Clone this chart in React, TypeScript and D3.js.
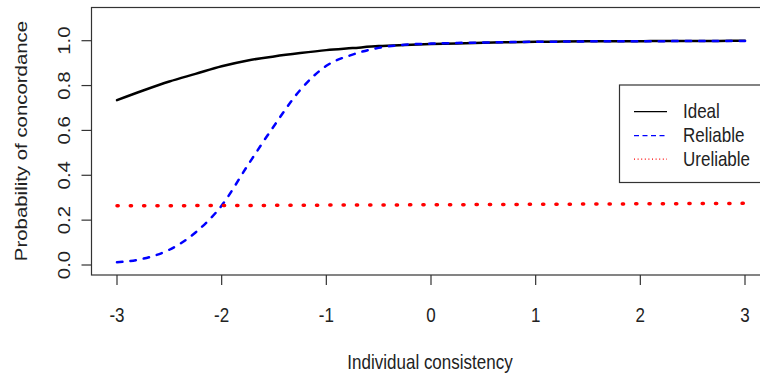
import React, { useEffect } from 'react';
import * as d3 from 'd3';

// values, x = -3 .. 3 in steps of 0.25
const xValues = [
  -3, -2.75, -2.5, -2.25, -2, -1.75, -1.5, -1.25, -1, -0.75, -0.5, -0.25,
  0, 0.25, 0.5, 0.75, 1, 1.25, 1.5, 1.75, 2, 2.25, 2.5, 2.75, 3
];
const ideal = [
  0.735, 0.778, 0.818, 0.852, 0.886, 0.912, 0.930, 0.945, 0.958, 0.967, 0.976, 0.981,
  0.985, 0.988, 0.991, 0.993, 0.995, 0.996, 0.997, 0.998, 0.998, 0.999, 0.999, 0.999, 1.0
];
const reliable = [
  0.012, 0.028, 0.068, 0.145, 0.265, 0.445, 0.62, 0.78, 0.888, 0.938, 0.968, 0.982,
  0.987, 0.99, 0.992, 0.994, 0.995, 0.996, 0.997, 0.997, 0.998, 0.998, 0.999, 0.999, 0.999
];
const unreliable = [
  0.264, 0.264, 0.264, 0.265, 0.265, 0.265, 0.266, 0.266, 0.267, 0.267, 0.268, 0.268,
  0.269, 0.269, 0.27, 0.27, 0.271, 0.271, 0.272, 0.272, 0.273, 0.273, 0.274, 0.274, 0.275
];
const xTicks = [-3, -2, -1, 0, 1, 2, 3];
const yTicks = [0, 0.2, 0.4, 0.6, 0.8, 1.0];
const legendLabels = ['Ideal', 'Reliable', 'Ureliable'];

const W = 760;
const H = 382;
const FONT = '"Liberation Sans", Arial, sans-serif';
const FS = 17;
const STRETCH = 1.2;
const BOX = '#333';

const series = [
  { values: ideal, color: '#000000', width: 2.5, dash: null, legendDash: null },
  { values: reliable, color: '#0000ff', width: 2.5, dash: '5.5,8', legendDash: '5,3.5' },
  { values: unreliable, color: '#ff0000', width: 3.5, dash: '1.2,12.1', legendDash: '1,2.6' }
];

const App: React.FC = () => {
  useEffect(() => {
    document.body.style.margin = '0';
  }, []);

  const x = d3.scaleLinear().domain([-3, 3]).range([117, 745]);
  const y = d3.scaleLinear().domain([0, 1]).range([265, 40.7]);
  const box = { left: 91.5, top: 7.5, right: 771, bottom: 275 };

  const line = d3
    .line<number>()
    .x((_, i) => x(xValues[i]))
    .y(d => y(d))
    .curve(d3.curveMonotoneX);

  const legend = { left: 619.5, top: 85, bottom: 182.5, rows: [111.7, 135.7, 159.2] };

  return (
    <svg width={W} height={H} style={{ display: 'block', background: '#fff' }} fontFamily={FONT}>
      {series.map((s, i) => (
        <path
          key={i}
          d={line(s.values) || ''}
          fill="none"
          stroke={s.color}
          strokeWidth={s.width}
          strokeDasharray={s.dash || undefined}
          strokeLinecap="round"
          strokeLinejoin="round"
        />
      ))}

      {/* plot box */}
      <rect
        x={box.left}
        y={box.top}
        width={box.right - box.left}
        height={box.bottom - box.top}
        fill="none"
        stroke={BOX}
        strokeWidth={1.2}
      />

      {/* x axis */}
      {xTicks.map(t => (
        <g key={t}>
          <line x1={x(t)} x2={x(t)} y1={box.bottom} y2={box.bottom + 10} stroke={BOX} strokeWidth={1.2} />
          <text
            transform={`translate(${x(t)},321.5) scale(1,${STRETCH})`}
            textAnchor="middle"
            fontSize={FS}
            fill="#222"
          >
            {t}
          </text>
        </g>
      ))}
      <text
        transform={`translate(430,369) scale(1,${STRETCH})`}
        textAnchor="middle"
        fontSize={FS}
        fill="#222"
      >
        Individual consistency
      </text>

      {/* y axis */}
      {yTicks.map(t => (
        <g key={t}>
          <line x1={box.left} x2={box.left - 10} y1={y(t)} y2={y(t)} stroke={BOX} strokeWidth={1.2} />
          <text
            transform={`translate(70,${y(t)}) scale(1,${STRETCH}) rotate(-90)`}
            textAnchor="middle"
            fontSize={FS}
            fill="#222"
          >
            {d3.format('.1f')(t)}
          </text>
        </g>
      ))}
      <text
        transform={`translate(27,141) scale(1,${STRETCH}) rotate(-90)`}
        textAnchor="middle"
        fontSize={FS}
        fill="#222"
      >
        Probability of concordance
      </text>

      {/* legend */}
      <rect
        x={legend.left}
        y={legend.top}
        width={box.right - 10 - legend.left}
        height={legend.bottom - legend.top}
        fill="#fff"
        stroke={BOX}
        strokeWidth={1.2}
      />
      {series.map((s, i) => (
        <g key={i}>
          <line
            x1={634}
            x2={667}
            y1={legend.rows[i]}
            y2={legend.rows[i]}
            stroke={s.color}
            strokeWidth={1.2}
            strokeDasharray={s.legendDash || undefined}
          />
          <text
            transform={`translate(683,${legend.rows[i] + 6.5}) scale(1,${STRETCH})`}
            fontSize={FS}
            fill="#222"
          >
            {legendLabels[i]}
          </text>
        </g>
      ))}
    </svg>
  );
};

export default App;
